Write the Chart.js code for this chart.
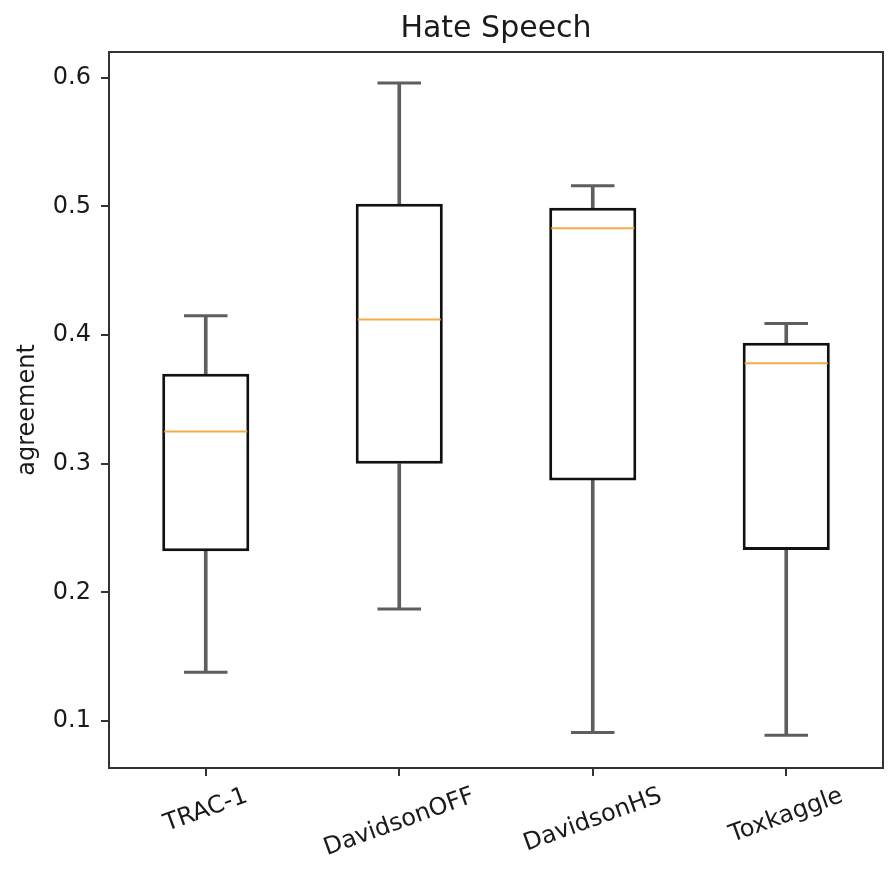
<!DOCTYPE html>
<html>
<head>
<meta charset="utf-8">
<script src="https://cdn.jsdelivr.net/npm/chart.js@4/dist/chart.umd.min.js"></script>
<style>
  html, body { margin: 0; padding: 0; background: #fff; overflow: hidden; }
  #c { display: block; }
</style>
</head>
<body>
<canvas id="c" width="889" height="875"></canvas>
<script>
// ---- data ----
const categories  = ['TRAC-1', 'DavidsonOFF', 'DavidsonHS', 'Toxkaggle'];
const whiskerLow  = [0.138, 0.187, 0.091, 0.089];
const q1Values    = [0.232, 0.300, 0.287, 0.233];
const medians     = [0.325, 0.412, 0.483, 0.378];
const q3Values    = [0.370, 0.502, 0.499, 0.394];
const whiskerHigh = [0.415, 0.596, 0.516, 0.409];
const yTicks      = [0.1, 0.2, 0.3, 0.4, 0.5, 0.6];
const chartTitle  = 'Hate Speech';
const yTitle      = 'agreement';

// ---- styling ----
const FONT = 'DejaVu Sans';
const TEXT = '#1a1a1a';
const SPINE = '#333333';
const BOX_FRAC = 0.45;
const WHISKER_COLOR = '#5e5e5e';
const BOX_EDGE = '#111111';
const MEDIAN_COLOR = '#f5a94a';

function boxWidth(ctx) {
  const xs = ctx.chart.scales.x;
  if (!xs) return 40;
  return xs.width / categories.length * BOX_FRAC;
}

const spinesPlugin = {
  id: 'spines',
  afterDatasetsDraw(chart) {
    const { ctx, chartArea: a } = chart;
    ctx.save();
    ctx.strokeStyle = SPINE;
    ctx.lineWidth = 2;
    ctx.strokeRect(a.left, a.top, a.right - a.left, a.bottom - a.top);
    ctx.restore();
  }
};

// title centred over the plotting area (as in the reference)
const titlePlugin = {
  id: 'areaTitle',
  afterDraw(chart) {
    const { ctx, chartArea: a } = chart;
    ctx.save();
    ctx.font = '30px "' + FONT + '"';
    ctx.fillStyle = TEXT;
    ctx.textAlign = 'center';
    ctx.textBaseline = 'alphabetic';
    ctx.fillText(chartTitle, (a.left + a.right) / 2, a.top - 15);
    ctx.restore();
  }
};

const xLabelPlugin = {
  id: 'xlabels',
  afterDraw(chart) {
    const { ctx, chartArea: a } = chart;
    const xs = chart.scales.x;
    const theta = 20 * Math.PI / 180;
    const size = 24;
    ctx.save();
    ctx.font = size + 'px "' + FONT + '"';
    ctx.fillStyle = TEXT;
    ctx.textAlign = 'center';
    ctx.textBaseline = 'middle';
    const top = a.bottom + 8 + 7;
    categories.forEach((lab, i) => {
      const x = xs.getPixelForTick(i);
      const L = ctx.measureText(lab).width;
      const h = size * 1.1;
      const H = L * Math.sin(theta) + h * Math.cos(theta);
      ctx.save();
      ctx.translate(x, top + H / 2);
      ctx.rotate(-theta);
      ctx.fillText(lab, 0, 0);
      ctx.restore();
    });
    ctx.restore();
  }
};

new Chart(document.getElementById('c'), {
  data: {
    labels: categories,
    datasets: [
      {
        type: 'bar',
        data: whiskerLow.map((v, i) => [v, q1Values[i]]),
        backgroundColor: WHISKER_COLOR,
        borderWidth: 0,
        barThickness: 3,
        grouped: false,
        order: 5
      },
      {
        type: 'bar',
        data: q3Values.map((v, i) => [v, whiskerHigh[i]]),
        backgroundColor: WHISKER_COLOR,
        borderWidth: 0,
        barThickness: 3,
        grouped: false,
        order: 5
      },
      {
        type: 'bar',
        data: q1Values.map((v, i) => [v, q3Values[i]]),
        backgroundColor: '#ffffff',
        borderColor: BOX_EDGE,
        borderWidth: 3,
        borderSkipped: false,
        categoryPercentage: 1,
        barPercentage: BOX_FRAC,
        grouped: false,
        order: 4
      },
      {
        type: 'line',
        data: whiskerLow,
        showLine: false,
        pointStyle: 'line',
        pointRadius: ctx => boxWidth(ctx) / 4,
        pointHoverRadius: ctx => boxWidth(ctx) / 4,
        borderColor: WHISKER_COLOR,
        pointBorderWidth: 3,
        pointHoverBorderWidth: 3,
        order: 2
      },
      {
        type: 'line',
        data: whiskerHigh,
        showLine: false,
        pointStyle: 'line',
        pointRadius: ctx => boxWidth(ctx) / 4,
        pointHoverRadius: ctx => boxWidth(ctx) / 4,
        borderColor: WHISKER_COLOR,
        pointBorderWidth: 3,
        pointHoverBorderWidth: 3,
        order: 2
      },
      {
        type: 'line',
        data: medians,
        showLine: false,
        pointStyle: 'line',
        pointRadius: ctx => boxWidth(ctx) / 2 - 2,
        pointHoverRadius: ctx => boxWidth(ctx) / 2 - 2,
        borderColor: MEDIAN_COLOR,
        pointBorderWidth: 2,
        pointHoverBorderWidth: 2,
        order: 1
      }
    ]
  },
  options: {
    responsive: false,
    animation: false,
    events: [],
    layout: { padding: { left: 0, right: 6, top: 52, bottom: 0 } },
    plugins: {
      legend: { display: false },
      tooltip: { enabled: false },
      title: { display: false }
    },
    scales: {
      x: {
        type: 'category',
        offset: true,
        grid: { display: true, offset: false, drawOnChartArea: false, drawTicks: true, tickLength: 8, color: SPINE, lineWidth: 2 },
        border: { display: false },
        ticks: { display: false },
        afterFit(scale) { scale.height = 107; }
      },
      y: {
        type: 'linear',
        min: 0.0635,
        max: 0.62,
        grid: { display: true, drawOnChartArea: false, drawTicks: true, tickLength: 8, color: SPINE, lineWidth: 2 },
        border: { display: false },
        afterBuildTicks(scale) { scale.ticks = yTicks.map(v => ({ value: v })); },
        ticks: {
          color: TEXT,
          padding: 10,
          font: { family: FONT, size: 24 },
          callback: v => Number(v).toFixed(1)
        },
        title: {
          display: true,
          text: yTitle,
          color: TEXT,
          font: { family: FONT, size: 24 },
          padding: { top: 13, bottom: 0 }
        },
        afterFit(scale) { scale.width = 109; }
      }
    }
  },
  plugins: [spinesPlugin, titlePlugin, xLabelPlugin]
});
</script>
</body>
</html>
